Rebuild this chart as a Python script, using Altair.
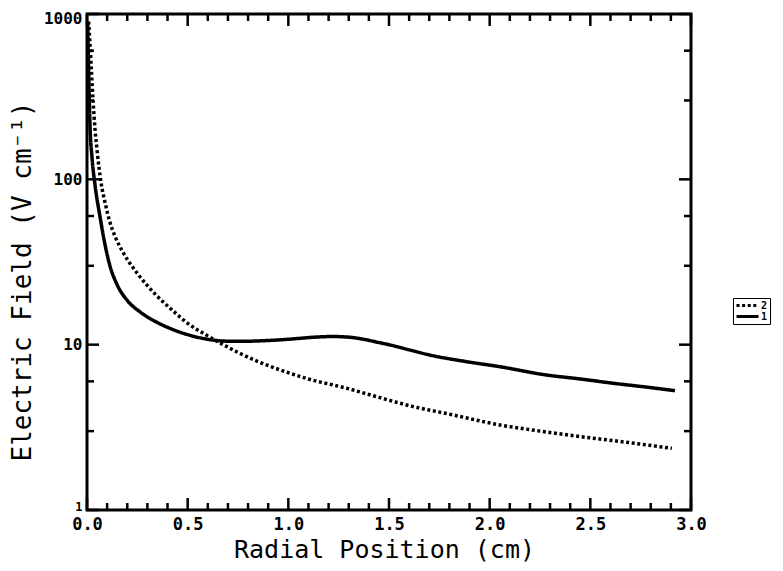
import altair as alt
import pandas as pd

# ---- data ----
series1_x = [0.003, 0.008, 0.015, 0.025, 0.04, 0.065, 0.09, 0.114, 0.15, 0.2, 0.263, 0.35, 0.43, 0.5,
             0.595, 0.7, 0.8, 0.9, 0.96, 1.05, 1.13, 1.22, 1.3, 1.37, 1.45, 1.505, 1.6, 1.7, 1.886,
             2.05, 2.28, 2.45, 2.615, 2.8, 2.92]
series1_y = [900, 450, 210, 135, 92, 59, 40, 30, 23, 18.5, 15.8, 13.6, 12.3, 11.5,
             10.8, 10.5, 10.5, 10.6, 10.7, 10.9, 11.1, 11.2, 11.1, 10.8, 10.3, 9.96, 9.3, 8.67, 7.89,
             7.36, 6.56, 6.2, 5.84, 5.5, 5.27]

series2_x = [0.008, 0.015, 0.022, 0.03, 0.04, 0.05, 0.07, 0.09, 0.114, 0.14, 0.18, 0.25, 0.346, 0.42,
             0.51, 0.6, 0.677, 0.74, 0.85, 0.96, 1.1, 1.29, 1.45, 1.62, 1.8, 2.05, 2.25, 2.45, 2.7, 2.905]
series2_y = [900, 650, 450, 300, 200, 150, 95, 72, 55, 45, 36, 27, 19.8, 16.3,
             13.2, 11.3, 10.0, 9.1, 7.9, 7.03, 6.2, 5.45, 4.8, 4.22, 3.8, 3.27, 3.0, 2.78, 2.55, 2.36]

x_major = [0.0, 0.5, 1.0, 1.5, 2.0, 2.5, 3.0]
x_minor = [0.1, 0.2, 0.3, 0.4, 0.6, 0.7, 0.8, 0.9, 1.1, 1.2, 1.3, 1.4, 1.6, 1.7, 1.8, 1.9,
           2.1, 2.2, 2.3, 2.4, 2.6, 2.7, 2.8, 2.9]
y_major = [1, 10, 100, 1000]
y_minor = [3, 6, 30, 60, 300, 600]

W, H = 604, 496
MONO = "DejaVu Sans Mono"

lines = pd.DataFrame({
    "r": series1_x + series2_x,
    "E": series1_y + series2_y,
    "series": ["1"] * len(series1_x) + ["2"] * len(series2_x),
})

xscale = alt.Scale(domain=[0, 3], nice=False, zero=False)
yscale = alt.Scale(type="log", domain=[1, 1000], nice=False)

xaxis = alt.Axis(values=x_major, format=".1f", title="Radial Position (cm)", ticks=False, tickSize=0,
                 domain=False, grid=False, labelFont=MONO, labelFontWeight="bold", labelFontSize=17,
                 labelColor="black", labelPadding=6, labelFlush=False, labelOverlap=False,
                 titleFont=MONO, titleFontSize=25, titleFontWeight="normal", titleColor="black",
                 titleX=297, titleY=39, titleBaseline="middle", titleAlign="center")
yaxis = alt.Axis(values=y_major, format="d", title="Electric Field (V cm⁻¹)", ticks=False, tickSize=0,
                 domain=False, grid=False, labelFont=MONO, labelFontWeight="bold",
                 labelFontSize=alt.condition("datum.value == 1", alt.value(12), alt.value(16)),
                 labelOffset={"condition": [{"test": "datum.value == 1000", "value": 4},
                                            {"test": "datum.value == 1", "value": -4}],
                              "value": 0},
                 labelColor="black", labelPadding=5, labelFlush=False, labelOverlap=False,
                 titleFont=MONO, titleFontSize=26, titleFontWeight="normal", titleColor="black",
                 titleAngle=270, titleX=-65, titleY=267, titleBaseline="middle", titleAlign="center")


def X(field):
    return alt.X(field, type="quantitative", scale=xscale, axis=xaxis)


def Y(field):
    return alt.Y(field, type="quantitative", scale=yscale, axis=yaxis)


line_layer = alt.Chart(lines).mark_line(color="black", strokeWidth=3.5, interpolate="monotone").encode(
    x=X("r"),
    y=Y("E"),
    strokeDash=alt.StrokeDash(
        "series:N",
        scale=alt.Scale(domain=["2", "1"], range=[[3, 2.6], [1, 0]]),
        legend=alt.Legend(title=None, orient="none", legendX=646, legendY=284, strokeColor="black",
                          padding=2, symbolType="stroke", symbolSize=484, symbolStrokeWidth=3,
                          symbolStrokeColor="black", labelFont=MONO, labelFontWeight="bold",
                          labelFontSize=10, labelOffset=1, rowPadding=0, labelColor="black",
                          clipHeight=11),
    ),
)

xmaj = pd.DataFrame({"t": x_major})
xmin = pd.DataFrame({"t": x_minor})
ymaj = pd.DataFrame({"v": y_major})
ymin = pd.DataFrame({"v": y_minor})

tick_layers = []
for df, ln in [(xmaj, 12), (xmin, 7)]:
    tick_layers.append(alt.Chart(df).mark_rule(color="black", strokeWidth=2.5).encode(
        x=X("t"), y=alt.value(H - ln), y2=alt.value(H)))
    tick_layers.append(alt.Chart(df).mark_rule(color="black", strokeWidth=2.5).encode(
        x=X("t"), y=alt.value(0), y2=alt.value(ln)))
for df, ln in [(ymaj, 12), (ymin, 7)]:
    tick_layers.append(alt.Chart(df).mark_rule(color="black", strokeWidth=2.5).encode(
        y=Y("v"), x=alt.value(0), x2=alt.value(ln)))
    tick_layers.append(alt.Chart(df).mark_rule(color="black", strokeWidth=2.5).encode(
        y=Y("v"), x=alt.value(W - ln), x2=alt.value(W)))

chart = alt.layer(line_layer, *tick_layers).properties(
    width=W, height=H,
    autosize=alt.AutoSizeParams(type="none"),
    padding={"left": 79, "top": 6, "right": 84, "bottom": 53},
    background="white",
).configure_view(stroke="black", strokeWidth=3)

chart.save("out.html", embed_options={"renderer": "svg", "actions": False})
